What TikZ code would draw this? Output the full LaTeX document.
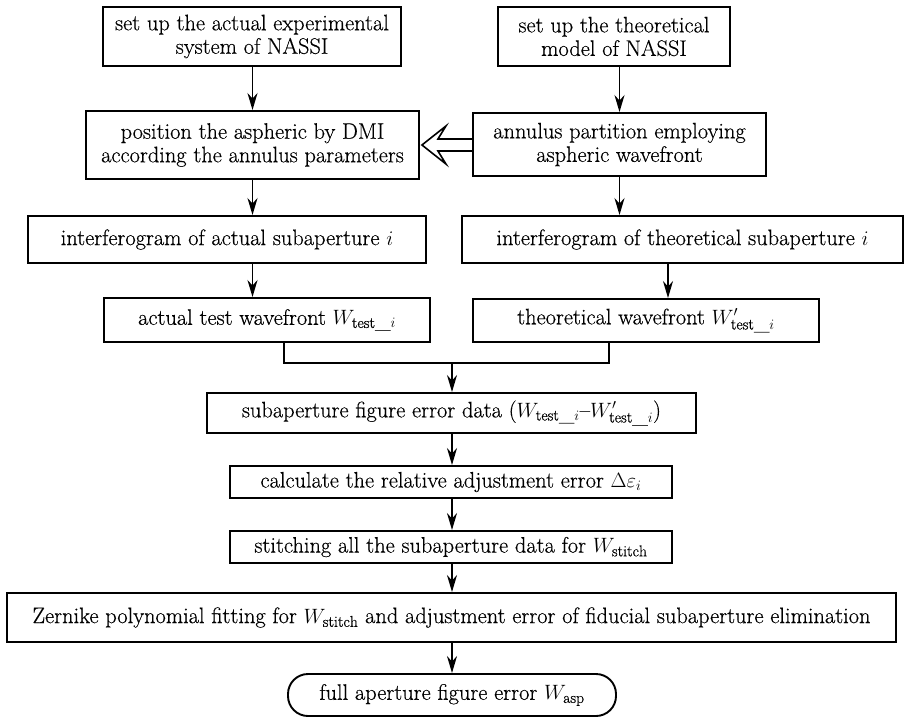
\documentclass[tikz,border=0pt]{standalone}
\usepackage{fontspec}
\setmainfont{Latin Modern Roman}[FakeBold=0.4]
\usetikzlibrary{arrows.meta,calc}
\begin{document}
\begin{tikzpicture}[x=1pt,y=-1pt,
  box/.style={draw, line width=1.9pt, inner sep=0pt, align=center,
    font=\fontsize{22.4}{23.5}\selectfont},
  arr/.style={line width=1.9pt, -{Stealth[length=17pt,width=10pt,inset=5.5pt]}},
  ln/.style={line width=1.9pt}]
\useasboundingbox (0,0) rectangle (905,718);
% nodes
\node[box, minimum width=298pt, minimum height=59pt] (b1) at (252,36.5)
  {set up the actual experimental\\system of NASSI};
\node[box, minimum width=232pt, minimum height=59pt] (b2) at (614,36.5)
  {set up the theoretical\\model of NASSI};
\node[box, minimum width=333pt, minimum height=68pt] (b3) at (252.5,145)
  {position the aspheric by DMI\\according the annulus parameters};
\node[box, minimum width=293pt, minimum height=63pt] (b4) at (619.5,144.5)
  {annulus partition employing\\aspheric wavefront};
\node[box, minimum width=398pt, minimum height=47pt] (b5) at (227,239.5)
  {interferogram of actual subaperture $i$};
\node[box, minimum width=441pt, minimum height=47pt] (b6) at (682.5,239.5)
  {interferogram of theoretical subaperture $i$};
\node[box, minimum width=326pt, minimum height=44pt] (b7) at (267,320)
  {actual test wavefront $W_{\mathrm{test\_}i}$};
\node[box, minimum width=346pt, minimum height=43pt] (b8) at (646,320.5)
  {theoretical wavefront $W'_{\mathrm{test\_}i}$};
\node[box, minimum width=489pt, minimum height=40pt] (b9) at (451.5,413)
  {subaperture figure error data ($W_{\mathrm{test\_}i}$--$W'_{\mathrm{test\_}i}$)};
\node[box, minimum width=442pt, minimum height=32pt] (b10) at (451,482)
  {calculate the relative adjustment error $\Delta\varepsilon_i$};
\node[box, minimum width=442pt, minimum height=32pt] (b11) at (451,547)
  {stitching all the subaperture data for $W_{\mathrm{stitch}}$};
\node[box, minimum width=889pt, minimum height=49pt] (b12) at (451.5,617.5)
  {Zernike polynomial fitting for $W_{\mathrm{stitch}}$ and adjustment error of fiducial subaperture elimination};
\node[box, rounded corners=20pt, minimum width=328pt, minimum height=42pt] (t) at (452,695)
  {full aperture figure error $W_{\mathrm{asp}}$};
% helper coordinates
\coordinate (rx) at (668,0);
\coordinate (m1) at (284,363);
\coordinate (m2) at (609,363);
\coordinate (mc) at (452,363);
% left column
\draw[arr] (b1.south -| b3.south) -- (b3.north);
\draw[arr] (b3.south) -- (b3.south |- b5.north);
\draw[arr] (b5.south -| b3.south) -- (b3.south |- b7.north);
% right column
\draw[arr] (b2.south -| b4.north) -- (b4.north);
\draw[arr] (b4.south) -- (b4.south |- b6.north);
\draw[arr] (b6.south -| rx) -- (b8.north -| rx);
% merge
\draw[ln] (b7.south -| m1) -- (m1) -- (m2) -- (b8.south -| m2);
\draw[arr] (mc) -- (mc |- b9.north);
% centre column
\draw[arr] (b9.south -| mc) -- (mc |- b10.north);
\draw[arr] (b10.south -| mc) -- (mc |- b11.north);
\draw[arr] (b11.south -| mc) -- (mc |- b12.north);
\draw[arr] (b12.south -| mc) -- (mc |- t.north);
% hollow arrow from b4 to b3
\draw[line width=1.6pt, line join=miter]
  ($(b4.west)+(0,-5.5)$) -- ($(b3.east)+(18,-6)$) -- ($(b3.east)+(26,-19)$)
  -- ($(b3.east)+(2,0)$) -- ($(b3.east)+(26,19)$) -- ($(b3.east)+(18,6)$)
  -- ($(b4.west)+(0,6.5)$);
\end{tikzpicture}
\end{document}
